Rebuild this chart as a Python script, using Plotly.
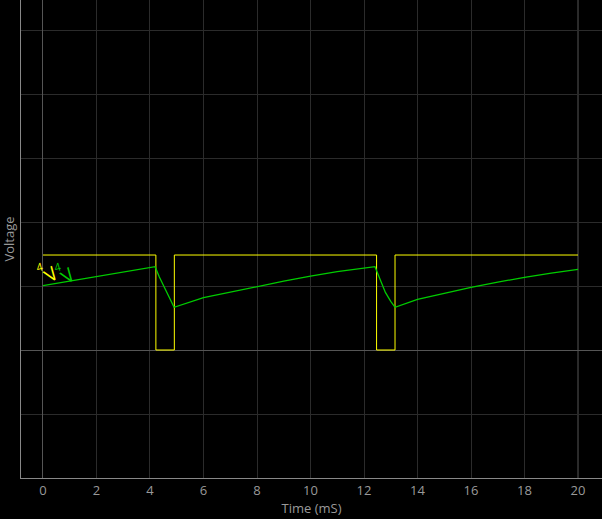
import plotly.graph_objects as go

# Yellow channel (square wave) — time (mS) and voltage
yellow_t = [0, 4.22, 4.22, 4.91, 4.91, 12.47, 12.47, 13.16, 13.16, 20]
yellow_v = [1.484, 1.484, 0, 0, 1.484, 1.484, 0, 0, 1.484, 1.484]

# Green channel (RC response)
green_t = [0, 1, 2, 3, 4.19, 4.35, 4.5, 4.7, 4.9, 6, 7, 8, 9, 10, 11, 12.41,
           12.6, 12.8, 13.0, 13.16, 14, 15, 16, 17, 18, 19, 20]
green_v = [1.005, 1.075, 1.145, 1.215, 1.302, 1.14, 1.016, 0.84, 0.667, 0.817, 0.905,
           0.989, 1.075, 1.156, 1.225, 1.302, 1.09, 0.90, 0.76, 0.667, 0.792, 0.89,
           0.98, 1.06, 1.136, 1.2, 1.26]

x_ticks = [0, 2, 4, 6, 8, 10, 12, 14, 16, 18, 20]

fig = go.Figure()
fig.add_trace(go.Scatter(x=yellow_t, y=yellow_v, mode="lines",
                         line=dict(color="#ffff00", width=1), showlegend=False))
fig.add_trace(go.Scatter(x=green_t, y=green_v, mode="lines",
                         line=dict(color="#00cc00", width=1.3), showlegend=False))

fig.add_vline(x=green_t[-1], line=dict(color="#555555", width=1), layer="below")

ann = [
    dict(x=-0.12, y=1.31, text="4", font=dict(color="#ffff00", size=11), textangle=-15),
    dict(x=0.30, y=1.19, text="V", font=dict(color="#ffff00", size=19), textangle=-35),
    dict(x=0.55, y=1.31, text="4", font=dict(color="#00cc00", size=11), textangle=-15),
    dict(x=0.95, y=1.17, text="V", font=dict(color="#00cc00", size=19), textangle=-35),
]
for a in ann:
    fig.add_annotation(showarrow=False, xref="x", yref="y", **a)

fig.update_layout(
    width=602, height=519,
    margin=dict(l=21, r=0, t=0, b=41, autoexpand=False),
    paper_bgcolor="#000000", plot_bgcolor="#000000",
    font=dict(family="Open Sans", color="#999999", size=13),
    xaxis=dict(range=[-0.822, 20.897], tickvals=x_ticks, ticktext=[str(t) for t in x_ticks],
               automargin=False,
               showgrid=True, gridcolor="#2b2b2b", gridwidth=1,
               zeroline=True, zerolinecolor="#555555", zerolinewidth=1,
               showline=True, linecolor="#888888", linewidth=1,
               title=dict(text="Time (mS)", font=dict(size=13, color="#999999"), standoff=2),
               tickfont=dict(size=13, color="#999999")),
    yaxis=dict(range=[-2, 5.469], dtick=1, showticklabels=False, automargin=False,
               showgrid=True, gridcolor="#2b2b2b", gridwidth=1,
               zeroline=True, zerolinecolor="#555555", zerolinewidth=1,
               showline=True, linecolor="#888888", linewidth=1,
               title=dict(text="Voltage", font=dict(size=13, color="#999999"), standoff=2)),
)

fig.write_html("out.html", config={"displayModeBar": False},
               post_script="document.body.style.margin='0';document.body.style.background='#000';")
